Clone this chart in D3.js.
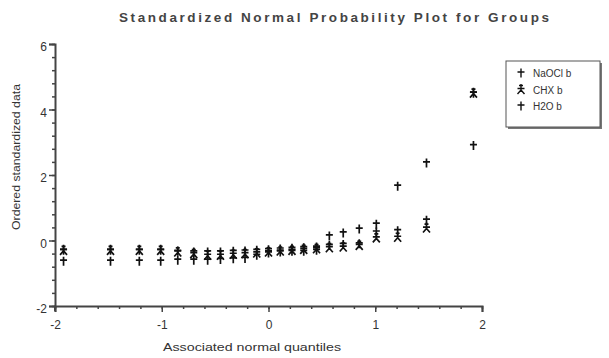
<!DOCTYPE html>
<html>
<head>
<meta charset="utf-8">
<script src="https://cdn.jsdelivr.net/npm/d3@7"></script>
<style>
  body { margin: 0; background: #fff; }
  svg { font-family: "Liberation Sans", Arial, sans-serif; }
</style>
</head>
<body>
<svg id="chart" width="609" height="358"></svg>
<script>
// Associated normal quantiles (x positions of the 23 ordered values)
const quantiles = [-1.92, -1.48, -1.21, -1.01, -0.85, -0.70, -0.57, -0.45, -0.33, -0.22, -0.11, 0.0,
  0.11, 0.22, 0.33, 0.45, 0.57, 0.70, 0.85, 1.01, 1.21, 1.48, 1.92];

// Ordered standardized data per group
const naoclValues = [-0.63, -0.63, -0.63, -0.63, -0.6, -0.6, -0.6, -0.58, -0.56, -0.55, -0.45, -0.38,
  -0.35, -0.33, -0.33, -0.3, 0.14, 0.23, 0.35, 0.5, 1.66, 2.37, 2.9];
const chxValues = [-0.3, -0.3, -0.3, -0.3, -0.35, -0.4, -0.45, -0.45, -0.42, -0.4, -0.38, -0.35,
  -0.32, -0.3, -0.27, -0.25, -0.22, -0.2, -0.15, 0.08, 0.1, 0.38, 4.5];
const h2oValues = [-0.3, -0.3, -0.3, -0.3, -0.33, -0.35, -0.35, -0.35, -0.33, -0.32, -0.3, -0.28,
  -0.26, -0.24, -0.22, -0.2, -0.15, -0.12, -0.1, 0.26, 0.3, 0.62, 4.5];

const groupNames = ["NaOCl b", "CHX b", "H2O b"];
const xTicks = [-2, -1, 0, 1, 2];
const yTicks = [-2, 0, 2, 4, 6];

// marker shapes, centred on 0,0
const dagger = "M-3.5,-1H3.5M0,-4.5V4.5";
const chxMark = "M-2,-4H2M0,-5.5V0.5M-3.5,-1H3.5M0,0.5L-3.5,4.5M0,0.5L3.5,4.5";

const groups = [
  {name: groupNames[0], values: naoclValues, shape: dagger},
  {name: groupNames[1], values: chxValues, shape: chxMark},
  {name: groupNames[2], values: h2oValues, shape: dagger}
];

const svg = d3.select("#chart");

const x = d3.scaleLinear().domain([-2, 2]).range([55, 482]);
const y = d3.scaleLinear().domain([-2, 6]).range([306, 44]);

const axisColor = "#444";
const textColor = "#333";

// Title
svg.append("text")
  .attr("x", 119)
  .attr("y", 22)
  .attr("textLength", 430)
  .attr("lengthAdjust", "spacing")
  .attr("font-size", "13.5px")
  .attr("font-weight", "bold")
  .attr("fill", "#444")
  .text("Standardized Normal Probability Plot for Groups");

// X axis: minor ticks every 0.2, labelled majors every 1
const xMinor = svg.append("g")
  .attr("transform", `translate(0,${y(-2)})`)
  .call(d3.axisBottom(x).tickValues(d3.range(-2, 2.01, 0.2)).tickSize(3).tickFormat(""));
const xAxis = svg.append("g")
  .attr("transform", `translate(0,${y(-2)})`)
  .call(d3.axisBottom(x).tickValues(xTicks).tickSize(6).tickPadding(8)
    .tickFormat(d => d < 0 ? "-" + Math.abs(d) : d));

// Y axis: minor ticks every 0.4, labelled majors every 2
const yMinor = svg.append("g")
  .attr("transform", `translate(${x(-2)},0)`)
  .call(d3.axisLeft(y).tickValues(d3.range(-2, 6.01, 0.4)).tickSize(3).tickFormat(""));
const yAxis = svg.append("g")
  .attr("transform", `translate(${x(-2)},0)`)
  .call(d3.axisLeft(y).tickValues(yTicks).tickSize(6).tickPadding(2)
    .tickFormat(d => d < 0 ? "-" + Math.abs(d) : d));

for (const g of [xMinor, xAxis, yMinor, yAxis]) {
  g.select(".domain").attr("stroke", axisColor).attr("stroke-width", 2);
  g.selectAll(".tick line").attr("stroke", axisColor).attr("stroke-width", 1.5);
  g.selectAll(".tick text")
    .attr("fill", textColor)
    .attr("font-size", "12px");
}
xMinor.select(".domain").remove();
yMinor.select(".domain").remove();
yAxis.selectAll(".tick text").attr("dy", "0.55em");
// y axis pokes a little below the x axis
svg.append("line")
  .attr("x1", x(-2)).attr("x2", x(-2))
  .attr("y1", y(-2)).attr("y2", y(-2) + 5)
  .attr("stroke", axisColor).attr("stroke-width", 2);

// Axis titles
svg.append("text")
  .attr("x", 163)
  .attr("y", 351)
  .attr("textLength", 178)
  .attr("lengthAdjust", "spacingAndGlyphs")
  .attr("font-size", "11px")
  .attr("fill", textColor)
  .text("Associated normal quantiles");

svg.append("text")
  .attr("transform", "translate(20,230) rotate(-90)")
  .attr("textLength", 146)
  .attr("lengthAdjust", "spacingAndGlyphs")
  .attr("font-size", "11px")
  .attr("fill", textColor)
  .text("Ordered standardized data");

// Points
const plot = svg.append("g");
groups.forEach(grp => {
  plot.append("g")
    .selectAll("path")
    .data(grp.values)
    .enter()
    .append("path")
    .attr("transform", (d, i) => `translate(${x(quantiles[i])},${y(d)})`)
    .attr("d", grp.shape)
    .attr("fill", "none")
    .attr("stroke", "#111")
    .attr("stroke-width", 1.7);
});

// Legend
const legend = svg.append("g").attr("transform", "translate(506,61)");
legend.append("rect")
  .attr("x", 2).attr("y", 2)
  .attr("width", 94).attr("height", 66)
  .attr("fill", "#777");
legend.append("rect")
  .attr("width", 94).attr("height", 66)
  .attr("fill", "#fff")
  .attr("stroke", "#555")
  .attr("stroke-width", 1);

const entries = legend.selectAll("g.entry")
  .data(groups)
  .enter()
  .append("g")
  .attr("transform", (d, i) => `translate(0,${12 + i * 16.5})`);
entries.append("path")
  .attr("transform", "translate(15,0)")
  .attr("d", d => d.shape)
  .attr("fill", "none")
  .attr("stroke", "#111")
  .attr("stroke-width", 1.4);
entries.append("text")
  .attr("x", 27)
  .attr("y", 4)
  .attr("font-size", "10px")
  .attr("fill", textColor)
  .text(d => d.name);
</script>
</body>
</html>
